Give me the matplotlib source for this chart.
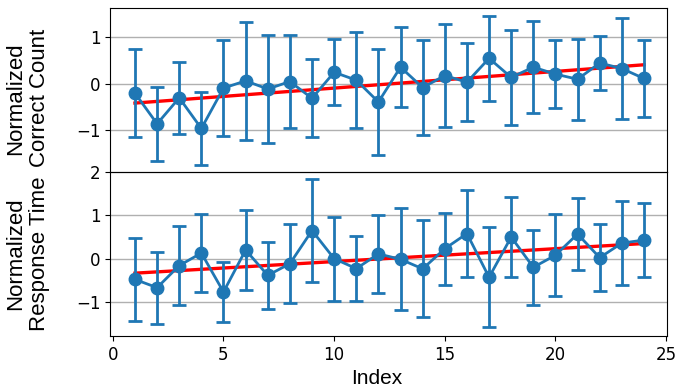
import matplotlib.pyplot as plt
import numpy as np

plt.rcParams['font.family'] = ['DejaVu Sans']

# indices de las sesiones
indice = np.arange(1, 25)

# conteo correcto normalizado (media y desviacion)
conteo = [-0.20, -0.86, -0.30, -0.96, -0.09, 0.065, -0.11, 0.05, -0.31, 0.25,
          0.08, -0.39, 0.36, -0.08, 0.18, 0.036, 0.55, 0.14, 0.36, 0.21,
          0.10, 0.45, 0.33, 0.116]
conteo_err = [0.95, 0.79, 0.77, 0.78, 1.03, 1.27, 1.17, 1.01, 0.84, 0.71,
              1.04, 1.14, 0.86, 1.02, 1.11, 0.84, 0.92, 1.02, 0.985, 0.735,
              0.87, 0.59, 1.08, 0.83]

# tiempo de respuesta normalizado
tiempo = [-0.48, -0.67, -0.16, 0.13, -0.77, 0.20, -0.386, -0.116, 0.65, 0.0,
          -0.23, 0.11, -0.015, -0.235, 0.23, 0.58, -0.43, 0.50, -0.20, 0.08,
          0.57, 0.023, 0.36, 0.43]
tiempo_err = [0.95, 0.83, 0.92, 0.90, 0.70, 0.93, 0.78, 0.92, 1.18, 0.97,
              0.76, 0.90, 1.18, 1.12, 0.83, 1.015, 1.16, 0.93, 0.86, 0.95,
              0.83, 0.78, 0.965, 0.86]

fig, (ax1, ax2) = plt.subplots(2, 1, sharex=True, figsize=(6.76, 3.89), dpi=100)
fig.subplots_adjust(left=0.163, right=0.987, top=0.979, bottom=0.136, hspace=0)

fuente = 'Liberation Sans'
for ax, y, e, etiqueta, ypos in [(ax1, conteo, conteo_err, 'Normalized\nCorrect Count', 0.45),
                                 (ax2, tiempo, tiempo_err, 'Normalized\nResponse Time', 0.5)]:
    # recta de tendencia
    m, b = np.polyfit(indice, y, 1)
    ax.plot(indice, m * indice + b, color='red', lw=2.4, zorder=2)
    ax.errorbar(indice, y, yerr=e, fmt='-o', color='#1f77b4', lw=2,
                markersize=9, capsize=5, capthick=2, elinewidth=2, zorder=3)
    ax.grid(axis='y', color='#b0b0b0', lw=1)
    ax.set_axisbelow(True)
    ax.set_ylabel(etiqueta, fontsize=16, family=fuente)
    ax.yaxis.set_label_coords(-0.108, ypos)
    ax.tick_params(labelsize=12)

ax1.set_ylim(-1.9, 1.63)
ax1.set_yticks([-1, 0, 1])
ax2.set_ylim(-1.79, 2.0)
ax2.set_yticks([-1, 0, 1, 2])
ax2.set_xlim(-0.12, 25.05)
ax2.set_xticks([0, 5, 10, 15, 20, 25])
ax2.set_xlabel('Index', fontsize=15, family=fuente)
ax2.xaxis.set_label_coords(0.479, -0.2)

fig.savefig('out.png', dpi=100)
